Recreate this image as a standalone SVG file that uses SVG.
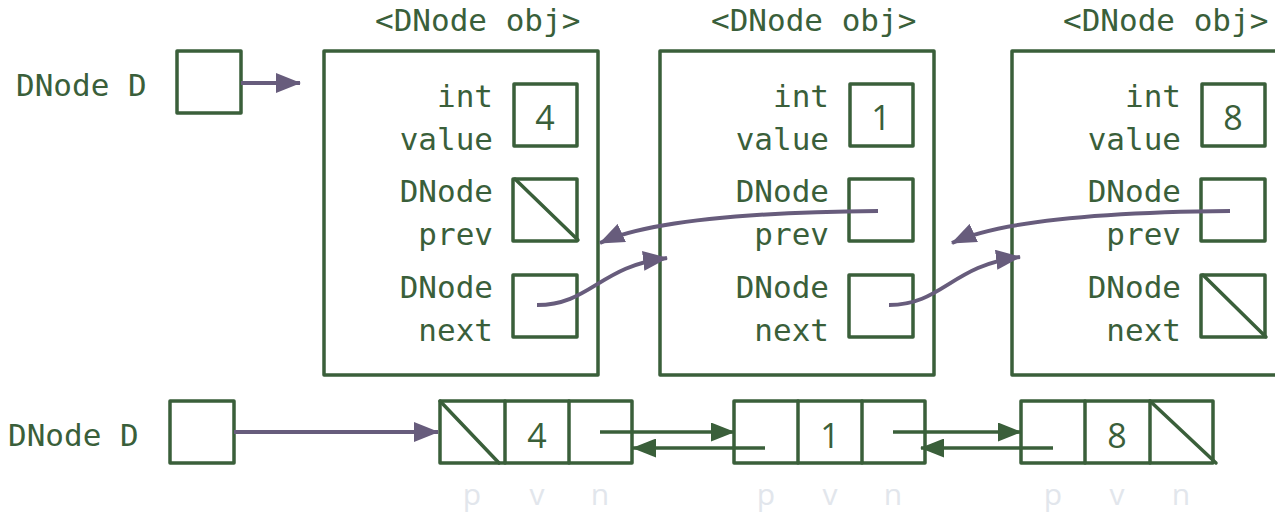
<svg xmlns="http://www.w3.org/2000/svg" width="1275" height="515" viewBox="0 0 1275 515">
  <defs>
    <style>
      .box { fill: #ffffff; stroke: #3a5f3a; stroke-width: 3.5; stroke-linejoin: round; }
      .slash { stroke: #3a5f3a; stroke-width: 3.5; stroke-linecap: round; }
      .mono { font-family: "DejaVu Sans Mono", "Liberation Mono", monospace; font-size: 31px; fill: #3a5f3a; }
      .lbl { text-anchor: end; }
      .num { font-family: "Open Sans", "Liberation Sans", sans-serif; font-size: 34px; fill: #3a5f3a; text-anchor: middle; }
      .tag { font-family: "Open Sans", "Liberation Sans", sans-serif; font-size: 30px; fill: #e2e6ec; text-anchor: middle; }
      .ptr { fill: none; stroke: #675c7c; stroke-width: 4; }
      .gptr { fill: none; stroke: #3a5f3a; stroke-width: 3.5; }
    </style>
    <marker id="pHead" markerUnits="userSpaceOnUse" markerWidth="25" markerHeight="20" refX="24" refY="10" orient="auto">
      <path d="M0,0 L25,10 L0,20 z" fill="#675c7c"/>
    </marker>
    <marker id="gHead" markerUnits="userSpaceOnUse" markerWidth="24" markerHeight="19" refX="23" refY="9.5" orient="auto">
      <path d="M0,0 L24,9.5 L0,19 z" fill="#3a5f3a"/>
    </marker>
  </defs>

  <!-- top: variable D -->
  <g id="varD-top">
    <text class="mono" x="16" y="96">DNode D</text>
    <rect class="box" x="177" y="51" width="64" height="62"/>
  </g>

  <!-- top: node object 1 -->
  <g id="obj1">
    <text class="mono" x="375" y="31">&lt;DNode obj&gt;</text>
    <rect class="box" x="324" y="51" width="274" height="324"/>
    <text class="mono lbl" x="493" y="107">int</text>
    <text class="mono lbl" x="493" y="150">value</text>
    <rect class="box" x="514" y="84" width="63" height="62"/>
    <text class="num" x="545" y="130">4</text>
    <text class="mono lbl" x="493" y="202">DNode</text>
    <text class="mono lbl" x="493" y="245">prev</text>
    <rect class="box" x="513" y="179" width="64" height="62"/>
    <line class="slash" x1="515" y1="179" x2="578" y2="240"/>
    <text class="mono lbl" x="493" y="298">DNode</text>
    <text class="mono lbl" x="493" y="341">next</text>
    <rect class="box" x="513" y="275" width="64" height="62"/>
  </g>

  <!-- top: node object 2 -->
  <g id="obj2">
    <text class="mono" x="711" y="31">&lt;DNode obj&gt;</text>
    <rect class="box" x="660" y="51" width="274" height="324"/>
    <text class="mono lbl" x="829" y="107">int</text>
    <text class="mono lbl" x="829" y="150">value</text>
    <rect class="box" x="850" y="84" width="63" height="62"/>
    <text class="num" x="881" y="130">1</text>
    <text class="mono lbl" x="829" y="202">DNode</text>
    <text class="mono lbl" x="829" y="245">prev</text>
    <rect class="box" x="849" y="179" width="64" height="62"/>
    <text class="mono lbl" x="829" y="298">DNode</text>
    <text class="mono lbl" x="829" y="341">next</text>
    <rect class="box" x="849" y="275" width="64" height="62"/>
  </g>

  <!-- top: node object 3 -->
  <g id="obj3">
    <text class="mono" x="1063" y="31">&lt;DNode obj&gt;</text>
    <rect class="box" x="1012" y="51" width="274" height="324"/>
    <text class="mono lbl" x="1181" y="107">int</text>
    <text class="mono lbl" x="1181" y="150">value</text>
    <rect class="box" x="1202" y="84" width="63" height="62"/>
    <text class="num" x="1233" y="130">8</text>
    <text class="mono lbl" x="1181" y="202">DNode</text>
    <text class="mono lbl" x="1181" y="245">prev</text>
    <rect class="box" x="1201" y="179" width="64" height="62"/>
    <text class="mono lbl" x="1181" y="298">DNode</text>
    <text class="mono lbl" x="1181" y="341">next</text>
    <rect class="box" x="1201" y="275" width="64" height="62"/>
    <line class="slash" x1="1203" y1="275" x2="1266" y2="337"/>
  </g>

  <!-- bottom: variable D -->
  <g id="varD-bottom">
    <text class="mono" x="8" y="446">DNode D</text>
    <rect class="box" x="170" y="401" width="64" height="62"/>
  </g>

  <!-- bottom: compact nodes -->
  <g id="cell1">
    <rect class="box" x="440" y="401" width="192" height="62"/>
    <line class="slash" x1="505" y1="401" x2="505" y2="463"/>
    <line class="slash" x1="569" y1="401" x2="569" y2="463"/>
    <line class="slash" x1="440" y1="401" x2="499" y2="463"/>
    <text class="num" x="537" y="448">4</text>
    <text class="tag" x="472" y="505">p</text>
    <text class="tag" x="537" y="505">v</text>
    <text class="tag" x="600" y="505">n</text>
  </g>
  <g id="cell2">
    <rect class="box" x="734" y="401" width="191" height="62"/>
    <line class="slash" x1="798" y1="401" x2="798" y2="463"/>
    <line class="slash" x1="862" y1="401" x2="862" y2="463"/>
    <text class="num" x="830" y="448">1</text>
    <text class="tag" x="766" y="505">p</text>
    <text class="tag" x="830" y="505">v</text>
    <text class="tag" x="893" y="505">n</text>
  </g>
  <g id="cell3">
    <rect class="box" x="1021" y="401" width="192" height="62"/>
    <line class="slash" x1="1085" y1="401" x2="1085" y2="463"/>
    <line class="slash" x1="1150" y1="401" x2="1150" y2="463"/>
    <line class="slash" x1="1150" y1="401" x2="1216" y2="463"/>
    <text class="num" x="1117" y="448">8</text>
    <text class="tag" x="1053" y="505">p</text>
    <text class="tag" x="1117" y="505">v</text>
    <text class="tag" x="1181" y="505">n</text>
  </g>

  <!-- pointers -->
  <g id="connectors">
    <line class="ptr" x1="241" y1="83" x2="300" y2="83" marker-end="url(#pHead)"/>
    <path class="ptr" d="M878,211 C760,212 650,220 600,243" marker-end="url(#pHead)"/>
    <path class="ptr" d="M1230,211 C1112,212 1002,220 952,243" marker-end="url(#pHead)"/>
    <path class="ptr" d="M537,305 C590,305 600,266 667,258" marker-end="url(#pHead)"/>
    <path class="ptr" d="M889,305 C942,305 952,265 1020,257" marker-end="url(#pHead)"/>
    <line class="ptr" x1="234" y1="432" x2="438" y2="432" marker-end="url(#pHead)"/>
    <line class="gptr" x1="600" y1="432" x2="734" y2="432" marker-end="url(#gHead)"/>
    <line class="gptr" x1="765" y1="448" x2="633" y2="448" marker-end="url(#gHead)"/>
    <line class="gptr" x1="893" y1="432" x2="1021" y2="432" marker-end="url(#gHead)"/>
    <line class="gptr" x1="1053" y1="448" x2="921" y2="448" marker-end="url(#gHead)"/>
  </g>
</svg>
